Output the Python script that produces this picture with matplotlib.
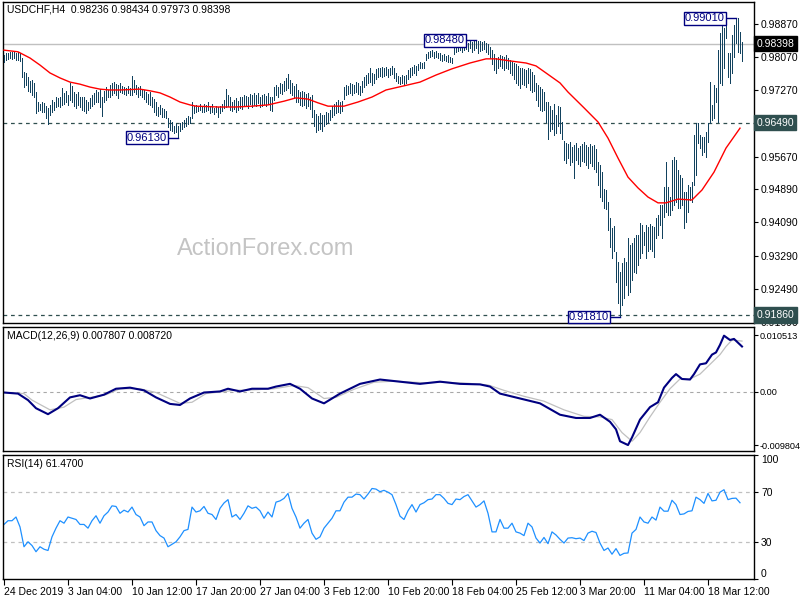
import matplotlib
matplotlib.use("Agg")
import matplotlib.pyplot as plt
from matplotlib.transforms import blended_transform_factory

plt.rcParams['font.family'] = ['Liberation Sans', 'DejaVu Sans']

# ---- H4 bars: high / low per bar ----
highs = [
    0.9812, 0.9818, 0.9816, 0.9820, 0.9819, 0.9821, 0.9818, 0.9820, 0.9816, 0.9806,
    0.9772, 0.9768, 0.9759, 0.9750, 0.9752, 0.9744, 0.9723, 0.9700, 0.9695, 0.9699,
    0.9697, 0.9690, 0.9685, 0.9692, 0.9704, 0.9700, 0.9711, 0.9708, 0.9710, 0.9733,
    0.9720, 0.9725, 0.9716, 0.9745, 0.9737, 0.9723, 0.9718, 0.9722, 0.9712, 0.9710,
    0.9712, 0.9705, 0.9700, 0.9708, 0.9716, 0.9720, 0.9728, 0.9724, 0.9730, 0.9711,
    0.9725, 0.9735, 0.9728, 0.9740, 0.9745, 0.9747, 0.9743, 0.9740, 0.9745, 0.9738,
    0.9735, 0.9732, 0.9738, 0.9733, 0.9762, 0.9752, 0.9740, 0.9735, 0.9738, 0.9730,
    0.9728, 0.9722, 0.9718, 0.9724, 0.9712, 0.9706, 0.9700, 0.9688, 0.9692, 0.9685,
    0.9682, 0.9678, 0.9660, 0.9655, 0.9650, 0.9642, 0.9645, 0.9641, 0.9648, 0.9652,
    0.9655, 0.9660, 0.9666, 0.9664, 0.9699, 0.9690, 0.9692, 0.9688, 0.9695, 0.9690,
    0.9695, 0.9692, 0.9699, 0.9690, 0.9694, 0.9685, 0.9690, 0.9688, 0.9690, 0.9695,
    0.9705, 0.9730, 0.9715, 0.9712, 0.9700, 0.9705, 0.9708, 0.9702, 0.9710, 0.9712,
    0.9716, 0.9714, 0.9710, 0.9718, 0.9715, 0.9720, 0.9717, 0.9721, 0.9712, 0.9716,
    0.9718, 0.9714, 0.9720, 0.9712, 0.9710, 0.9735, 0.9740, 0.9736, 0.9745, 0.9742,
    0.9750, 0.9758, 0.9767, 0.9752, 0.9745, 0.9738, 0.9742, 0.9728, 0.9722, 0.9725,
    0.9723, 0.9718, 0.9720, 0.9712, 0.9716, 0.9680, 0.9670, 0.9665, 0.9672, 0.9668,
    0.9668, 0.9675, 0.9672, 0.9680, 0.9690, 0.9695, 0.9700, 0.9704, 0.9698, 0.9702,
    0.9735, 0.9740, 0.9738, 0.9745, 0.9742, 0.9740, 0.9747, 0.9744, 0.9738, 0.9750,
    0.9760, 0.9765, 0.9768, 0.9781, 0.9770, 0.9766, 0.9778, 0.9782, 0.9780, 0.9784,
    0.9780, 0.9783, 0.9778, 0.9782, 0.9785, 0.9780, 0.9770, 0.9762, 0.9760, 0.9765,
    0.9762, 0.9765, 0.9775, 0.9780, 0.9784, 0.9788, 0.9786, 0.9790, 0.9795, 0.9793,
    0.9795, 0.9815, 0.9820, 0.9822, 0.9824, 0.9820, 0.9823, 0.9818, 0.9816, 0.9812,
    0.9814, 0.9810, 0.9812, 0.9808, 0.9805, 0.9835, 0.9840, 0.9838, 0.9842, 0.9840,
    0.9842, 0.9844, 0.9840, 0.9845, 0.9843, 0.9846, 0.9848, 0.9845, 0.9847, 0.9844,
    0.9846, 0.9842, 0.9838, 0.9832, 0.9825, 0.9815, 0.9805, 0.9808, 0.9812, 0.9810,
    0.9808, 0.9812, 0.9806, 0.9800, 0.9795, 0.9792, 0.9790, 0.9785, 0.9780, 0.9782,
    0.9778, 0.9775, 0.9780, 0.9778, 0.9772, 0.9765, 0.9745, 0.9740, 0.9735, 0.9730,
    0.9722, 0.9700, 0.9698, 0.9690, 0.9680, 0.9695, 0.9668, 0.9690, 0.9688, 0.9650,
    0.9605, 0.9600, 0.9598, 0.9603, 0.9590, 0.9595, 0.9600, 0.9588, 0.9592, 0.9598,
    0.9602, 0.9596, 0.9590, 0.9598, 0.9592, 0.9595, 0.9585, 0.9555, 0.9548, 0.9530,
    0.9490, 0.9488, 0.9458, 0.9420, 0.9396, 0.9400, 0.9338, 0.9314, 0.9290, 0.9310,
    0.9323, 0.9314, 0.9371, 0.9354, 0.9360, 0.9371, 0.9379, 0.9379, 0.9408, 0.9403,
    0.9386, 0.9403, 0.9398, 0.9405, 0.9400, 0.9398, 0.9420, 0.9427, 0.9451, 0.9451,
    0.9494, 0.9555, 0.9494, 0.9470, 0.9559, 0.9566, 0.9559, 0.9535, 0.9523, 0.9516,
    0.9482, 0.9482, 0.9499, 0.9494, 0.9506, 0.9620, 0.9649, 0.9649, 0.9620, 0.9615,
    0.9615, 0.9627, 0.9649, 0.9747, 0.9692, 0.9740, 0.9733, 0.9824, 0.9865, 0.9885,
    0.9878, 0.9885, 0.9817, 0.9817, 0.9860, 0.9885, 0.9901, 0.9901, 0.9868, 0.9843,
]
lows = [
    0.9795, 0.9800, 0.9803, 0.9804, 0.9802, 0.9806, 0.9800, 0.9801, 0.9798, 0.9760,
    0.9735, 0.9740, 0.9725, 0.9723, 0.9715, 0.9711, 0.9673, 0.9677, 0.9680, 0.9675,
    0.9676, 0.9660, 0.9646, 0.9668, 0.9675, 0.9680, 0.9687, 0.9690, 0.9688, 0.9692,
    0.9695, 0.9700, 0.9692, 0.9705, 0.9699, 0.9690, 0.9685, 0.9692, 0.9688, 0.9680,
    0.9678, 0.9673, 0.9680, 0.9685, 0.9690, 0.9695, 0.9700, 0.9698, 0.9688, 0.9665,
    0.9699, 0.9705, 0.9710, 0.9712, 0.9715, 0.9720, 0.9716, 0.9709, 0.9722, 0.9720,
    0.9718, 0.9716, 0.9720, 0.9715, 0.9716, 0.9722, 0.9718, 0.9711, 0.9715, 0.9712,
    0.9706, 0.9700, 0.9695, 0.9692, 0.9687, 0.9675, 0.9668, 0.9665, 0.9670, 0.9663,
    0.9662, 0.9660, 0.9638, 0.9632, 0.9628, 0.9625, 0.9627, 0.9613, 0.9630, 0.9633,
    0.9638, 0.9640, 0.9645, 0.9648, 0.9660, 0.9673, 0.9675, 0.9678, 0.9680, 0.9676,
    0.9675, 0.9678, 0.9680, 0.9672, 0.9675, 0.9670, 0.9676, 0.9663, 0.9672, 0.9678,
    0.9685, 0.9688, 0.9690, 0.9680, 0.9678, 0.9682, 0.9676, 0.9680, 0.9685, 0.9683,
    0.9692, 0.9690, 0.9685, 0.9695, 0.9688, 0.9693, 0.9690, 0.9696, 0.9688, 0.9690,
    0.9694, 0.9690, 0.9695, 0.9680, 0.9677, 0.9704, 0.9715, 0.9712, 0.9720, 0.9718,
    0.9725, 0.9728, 0.9732, 0.9720, 0.9715, 0.9708, 0.9699, 0.9700, 0.9692, 0.9690,
    0.9692, 0.9685, 0.9690, 0.9683, 0.9664, 0.9640, 0.9627, 0.9632, 0.9635, 0.9630,
    0.9640, 0.9645, 0.9648, 0.9655, 0.9662, 0.9668, 0.9673, 0.9675, 0.9672, 0.9678,
    0.9706, 0.9716, 0.9718, 0.9720, 0.9716, 0.9720, 0.9722, 0.9718, 0.9716, 0.9722,
    0.9735, 0.9740, 0.9745, 0.9748, 0.9740, 0.9745, 0.9755, 0.9760, 0.9762, 0.9760,
    0.9762, 0.9765, 0.9760, 0.9763, 0.9766, 0.9758, 0.9750, 0.9745, 0.9742, 0.9744,
    0.9740, 0.9745, 0.9755, 0.9760, 0.9765, 0.9768, 0.9765, 0.9775, 0.9780, 0.9782,
    0.9780, 0.9800, 0.9805, 0.9808, 0.9810, 0.9806, 0.9808, 0.9805, 0.9800, 0.9798,
    0.9800, 0.9798, 0.9796, 0.9795, 0.9792, 0.9815, 0.9820, 0.9822, 0.9825, 0.9820,
    0.9825, 0.9826, 0.9822, 0.9828, 0.9820, 0.9825, 0.9830, 0.9818, 0.9822, 0.9824,
    0.9826, 0.9820, 0.9815, 0.9805, 0.9790, 0.9775, 0.9770, 0.9782, 0.9785, 0.9780,
    0.9775, 0.9780, 0.9778, 0.9770, 0.9765, 0.9755, 0.9745, 0.9740, 0.9732, 0.9742,
    0.9740, 0.9735, 0.9745, 0.9728, 0.9722, 0.9725, 0.9705, 0.9690, 0.9680, 0.9677,
    0.9680, 0.9650, 0.9611, 0.9630, 0.9635, 0.9620, 0.9625, 0.9640, 0.9625, 0.9610,
    0.9560, 0.9552, 0.9565, 0.9548, 0.9555, 0.9516, 0.9560, 0.9550, 0.9545, 0.9558,
    0.9555, 0.9548, 0.9540, 0.9553, 0.9545, 0.9538, 0.9530, 0.9500, 0.9470, 0.9460,
    0.9444, 0.9440, 0.9390, 0.9350, 0.9323, 0.9340, 0.9265, 0.9215, 0.9181, 0.9210,
    0.9227, 0.9258, 0.9234, 0.9241, 0.9270, 0.9289, 0.9287, 0.9306, 0.9323, 0.9335,
    0.9354, 0.9323, 0.9340, 0.9345, 0.9340, 0.9325, 0.9371, 0.9379, 0.9403, 0.9371,
    0.9422, 0.9434, 0.9427, 0.9427, 0.9439, 0.9451, 0.9458, 0.9444, 0.9444, 0.9451,
    0.9396, 0.9410, 0.9434, 0.9463, 0.9458, 0.9499, 0.9523, 0.9600, 0.9588, 0.9571,
    0.9578, 0.9566, 0.9603, 0.9649, 0.9656, 0.9660, 0.9699, 0.9651, 0.9745, 0.9740,
    0.9781, 0.9853, 0.9759, 0.9745, 0.9769, 0.9807, 0.9841, 0.9820, 0.9817, 0.9797,
]
bar_index = list(range(len(highs)))

# ---- moving average (red) sampled along the chart ----
ma_bars = [0, 7, 13, 18, 23, 28, 33, 38, 43, 48, 53, 58, 68, 73, 78, 83, 88, 93, 96, 107,
           116, 124, 132, 140, 146, 152, 157, 162, 170, 177, 184, 191, 200, 208, 216, 224,
           233, 241, 246, 253, 261, 266, 271, 278, 282, 290, 297, 302, 307, 312, 317, 322,
           327, 331, 337, 344, 349, 355, 361, 368]
ma_values = [0.9824, 0.9820, 0.9805, 0.9788, 0.9769, 0.9757, 0.9747, 0.9742, 0.9735, 0.9730,
             0.9728, 0.9728, 0.9730, 0.9726, 0.9721, 0.9711, 0.9699, 0.9692, 0.9689, 0.9687,
             0.9687, 0.9689, 0.9692, 0.9701, 0.9709, 0.9706, 0.9697, 0.9689, 0.9689, 0.9699,
             0.9711, 0.9728, 0.9738, 0.9747, 0.9764, 0.9779, 0.9793, 0.9803, 0.9803, 0.9798,
             0.9793, 0.9786, 0.9769, 0.9745, 0.9723, 0.9685, 0.9651, 0.9612, 0.9564, 0.9518,
             0.9492, 0.9470, 0.9456, 0.9456, 0.9465, 0.9463, 0.9487, 0.9530, 0.9588, 0.9636]

# ---- MACD(12,26,9) ----
macd_bars = [0, 7, 12, 16, 22, 27, 33, 38, 43, 50, 56, 63, 70, 76, 83, 88, 93, 100, 108, 112,
             118, 124, 132, 136, 143, 148, 154, 160, 168, 178, 188, 198, 208, 218, 228, 238,
             243, 248, 258, 268, 278, 286, 293, 298, 303, 306, 308, 312, 314, 318, 323, 327,
             330, 334, 336, 339, 343, 345, 348, 351, 354, 356, 358, 360, 363, 365, 369]
macd_main = [-0.0001, -0.0003, -0.0015, -0.0030, -0.0041, -0.0030, -0.0010, -0.0006, -0.0012,
             -0.0005, 0.0006, 0.0008, 0.0003, -0.0010, -0.0022, -0.0024, -0.0012, -0.0001,
             0.0001, 0.0006, 0.0001, 0.0006, 0.0006, 0.0010, 0.0015, 0.0006, -0.0012, -0.0021,
             -0.0003, 0.0015, 0.0023, 0.0019, 0.0015, 0.0019, 0.0015, 0.0014, 0.0010, -0.0003,
             -0.0012, -0.0021, -0.0042, -0.0048, -0.0048, -0.0042, -0.0055, -0.0069, -0.0091,
             -0.0098, -0.0084, -0.0051, -0.0028, -0.0019, 0.0008, 0.0026, 0.0033, 0.0024,
             0.0023, 0.0033, 0.0051, 0.0053, 0.0069, 0.0073, 0.0087, 0.0104, 0.0096, 0.0098,
             0.0084]
signal_bars = [0, 10, 14, 23, 30, 36, 43, 51, 58, 68, 76, 88, 94, 101, 115, 125, 135, 145,
               152, 160, 166, 175, 185, 195, 210, 220, 232, 242, 250, 260, 270, 280, 290, 298,
               304, 309, 314, 318, 323, 328, 333, 338, 343, 348, 353, 358, 361, 364, 369]
macd_signal = [-0.0001, -0.0003, -0.0015, -0.0033, -0.0028, -0.0014, -0.0010, -0.0005, 0.0006,
               0.0006, -0.0001, -0.0021, -0.0019, -0.0003, 0.0003, 0.0004, 0.0006, 0.0012,
               0.0008, -0.0012, -0.0010, 0.0005, 0.0018, 0.0020, 0.0017, 0.0018, 0.0016,
               0.0013, 0.0003, -0.0008, -0.0017, -0.0033, -0.0045, -0.0046, -0.0051, -0.0075,
               -0.0091, -0.0075, -0.0046, -0.0019, 0.0006, 0.0024, 0.0024, 0.0033, 0.0051,
               0.0069, 0.0084, 0.0096, 0.0094]

# ---- RSI(14), one reading every second bar ----
rsi_values = [44, 47, 47, 50, 42, 26, 30, 27, 22, 26, 24, 23, 34, 41, 47, 45, 50, 49, 48, 44,
              44, 41, 47, 51, 45, 51, 54, 59, 58.5, 53, 55.5, 54, 58, 52, 50, 43, 46, 46, 39, 35,
              33, 26, 28, 30, 34, 39, 40, 58, 54, 55, 58.5, 53, 52, 48, 57, 61.3, 64, 50, 52, 48,
              53, 59, 57, 58, 55, 49, 54, 50, 62, 63, 65, 69, 57, 50, 41, 45, 48, 37, 32, 34,
              41, 45, 49, 55, 55, 62, 66, 66, 68.5, 68, 64.5, 68.5, 73, 72.5, 70.4, 71.5, 70, 68, 60,
              50.7, 48, 55, 60, 54, 60, 61.5, 64, 64.5, 68, 68, 65, 61, 60, 64.5, 64, 66.5, 68, 63, 58,
              60, 63, 53, 38, 38, 48, 41, 41, 45, 38, 37, 35, 45, 42, 33, 29, 33.5, 28.5, 38, 35.5,
              32, 29, 33, 33.3, 32.5, 33, 31, 37, 38.5, 37.5, 29, 23, 25, 20, 24.5, 19, 20.7, 21, 37, 40,
              50, 46, 45, 50, 47.5, 58, 54.7, 54.7, 63.5, 60, 52, 52.5, 54.5, 55, 66, 64, 61, 69, 63, 63.5,
              70, 72, 64, 65, 65.2, 61.5]
rsi_bars = list(range(0, 2 * len(rsi_values), 2))

# ---- labels / levels ----
date_bars = [0, 32, 64, 96, 128, 160, 192, 224, 256, 288, 320, 352]
date_labels = ['24 Dec 2019', '3 Jan 04:00', '10 Jan 12:00', '17 Jan 20:00', '27 Jan 04:00',
               '3 Feb 12:00', '10 Feb 20:00', '18 Feb 04:00', '25 Feb 12:00', '3 Mar 20:00',
               '11 Mar 04:00', '18 Mar 12:00']
price_ticks = [0.98870, 0.98070, 0.97270, 0.95670, 0.94890, 0.94090, 0.93290, 0.92490, 0.91690]
last_price = 0.98398
levels = [0.96490, 0.91860]
extreme_bars = [87, 236, 308, 366]
extreme_values = [0.96130, 0.98480, 0.91810, 0.99010]
macd_ticks = [0.010513, 0.0, -0.009804]
macd_tick_labels = ['0.010513', '0.00', '-0.009804']
rsi_ticks = [100, 70, 30, 0]

BAR_COLOR = '#12425E'
NAVY = '#000080'
SLATE = '#2F4F4F'
FS = 7.5

fig = plt.figure(figsize=(8, 6), dpi=100)


def rect(l, t, r, b):
    return [l / 800, 1 - b / 600, (r - l) / 800, (b - t) / 600]


ax = fig.add_axes(rect(3, 2, 754, 323))
ax_m = fig.add_axes(rect(3, 327, 754, 451), sharex=ax)
ax_r = fig.add_axes(rect(3, 455, 754, 579), sharex=ax)

for a in (ax, ax_m, ax_r):
    for s in a.spines.values():
        s.set_color('black')
        s.set_linewidth(1)
    a.yaxis.tick_right()
    a.tick_params(axis='y', labelsize=FS, length=3, pad=2, colors='black')

# price panel
ax.vlines(bar_index, lows, highs, color=BAR_COLOR, lw=0.6, antialiased=False, zorder=3)
ax.plot(ma_bars, ma_values, color='red', lw=1, zorder=4)
ax.axhline(last_price, color='#C0C0C0', lw=1, zorder=1)
for lv in levels:
    ax.axhline(lv, color=SLATE, lw=0.9, ls=(0, (3, 3)), zorder=2)
ax.set_xlim(-0.5, 375)
ax.set_ylim(0.91665, 0.9940)
ax.set_yticks(price_ticks)
ax.set_yticklabels([f'{v:.5f}' for v in price_ticks])
ax.tick_params(axis='x', bottom=False, labelbottom=False)

tr = blended_transform_factory(ax.transAxes, ax.transData)
ax.text(1.003, last_price, f'{last_price:.5f}', transform=tr, va='center', ha='left',
        color='white', fontsize=FS, zorder=10,
        bbox=dict(boxstyle='square,pad=0.25', fc='black', ec='black'))
for lv in levels:
    ax.text(1.003, lv, f'{lv:.5f}', transform=tr, va='center', ha='left',
            color='white', fontsize=FS, zorder=10,
            bbox=dict(boxstyle='square,pad=0.25', fc=SLATE, ec=SLATE))

# extreme markers with boxed labels
for b, v in zip(extreme_bars, extreme_values):
    c = b - 15.5
    ax.plot([c + 10, b], [v, v], color=NAVY, lw=1, zorder=5)
    ax.text(c, v, f'{v:.5f}', ha='center', va='center', color=NAVY, fontsize=FS + 0.5, zorder=6,
            bbox=dict(boxstyle='square,pad=0.12', fc='white', ec=NAVY, lw=1))

fig.text(7 / 800, 1 - 10 / 600, 'USDCHF,H4  0.98236 0.98434 0.97973 0.98398',
         fontsize=FS, va='center', ha='left')
fig.text(266 / 800, 1 - 249 / 600, 'ActionForex.com', fontsize=17, color='#C4C4C4',
         ha='center', va='center')

# MACD panel
ax_m.axhline(0, color='#A8A8A8', lw=0.8, ls=(0, (3, 3)))
ax_m.plot(signal_bars, macd_signal, color='#C0C0C0', lw=0.9)
ax_m.plot(macd_bars, macd_main, color=NAVY, lw=1.5)
ax_m.set_ylim(-0.0109, 0.0120)
ax_m.set_yticks(macd_ticks)
ax_m.set_yticklabels(macd_tick_labels)
ax_m.tick_params(axis='y', labelsize=6.6, pad=1)
ax_m.tick_params(axis='x', bottom=False, labelbottom=False)
fig.text(7 / 800, 1 - 336 / 600, 'MACD(12,26,9) 0.007807 0.008720', fontsize=FS,
         va='center', ha='left')

# RSI panel
for lv in (70, 30):
    ax_r.axhline(lv, color='#C0C0C0', lw=0.9, ls=(0, (3, 3)))
ax_r.plot(rsi_bars, rsi_values, color='#1E90FF', lw=0.9)
ax_r.set_ylim(0, 100)
ax_r.set_yticks(rsi_ticks)
ax_r.set_yticklabels([str(v) for v in rsi_ticks])
lbls = ax_r.get_yticklabels()
lbls[0].set_va('top')
lbls[-1].set_va('bottom')
fig.text(7 / 800, 1 - 464 / 600, 'RSI(14) 61.4700', fontsize=FS, va='center', ha='left')

ax_r.set_xticks(date_bars)
ax_r.set_xticklabels(date_labels, ha='left')
ax_r.tick_params(axis='x', labelsize=FS, length=4, pad=2, direction='out')

fig.savefig('out.png', dpi=100)
